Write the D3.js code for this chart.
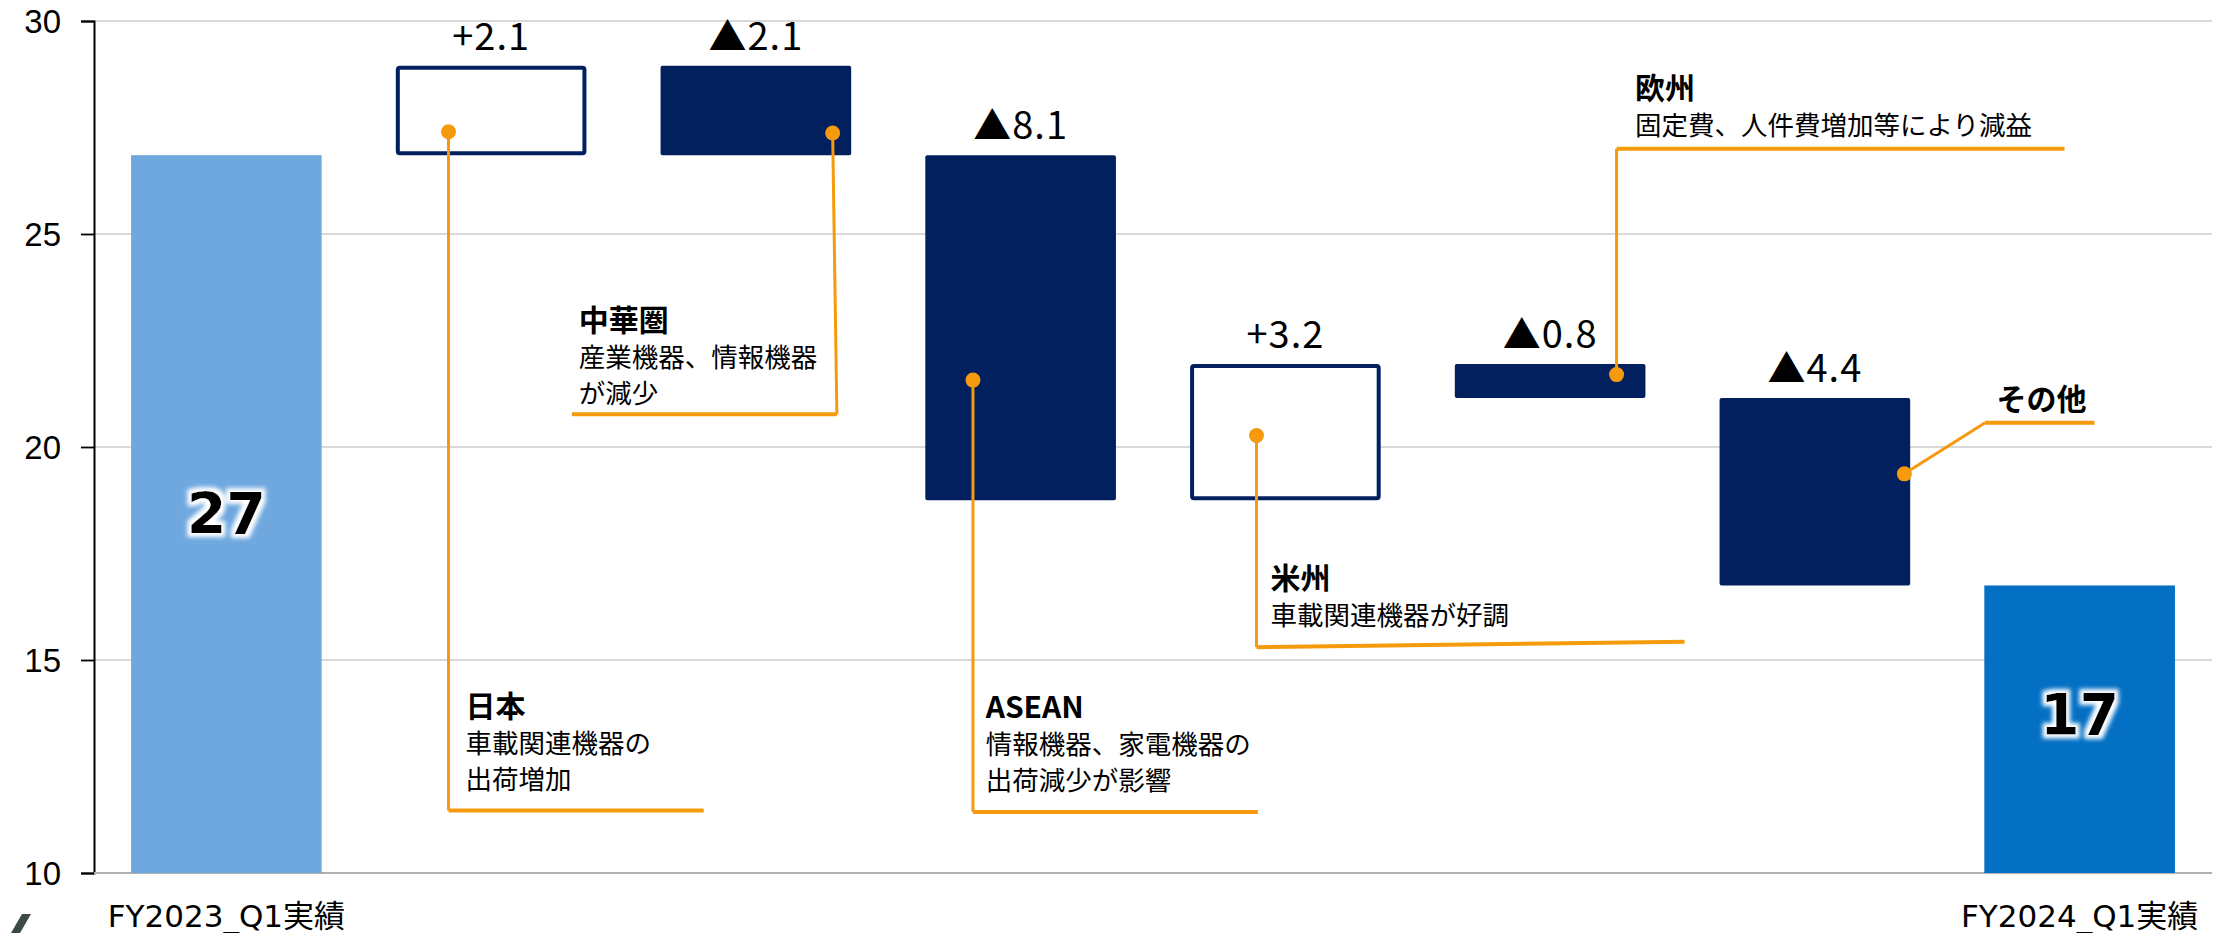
<!DOCTYPE html>
<html>
<head>
<meta charset="utf-8">
<script src="https://cdn.jsdelivr.net/npm/d3@7"></script>
<style>
  body { margin: 0; background: #fff; }
  svg { display: block; }
</style>
</head>
<body>
<script>
// 地域別の増減（ウォーターフォール）

const WIDTH  = 2223;
const HEIGHT = 933;

const categories  = ['FY2023_Q1実績', '日本', '中華圏', 'ASEAN', '米州', '欧州', 'その他', 'FY2024_Q1実績'];
const startValue  = 26.85;
const deltas      = [2.1, -2.1, -8.1, 3.2, -0.8, -4.4];
const valueLabels = ['27', '+2.1', '▲2.1', '▲8.1', '+3.2', '▲0.8', '▲4.4', '17'];
const yTicks      = [10, 15, 20, 25, 30];

// 注記（位置は x: カテゴリ単位, y: 値の単位）
const notes = [
  { head: '日本',   lines: ['車載関連機器の', '出荷増加'],       text: [1.403, 13.67], path: [[1.339, 27.4], [1.339, 11.47], [2.303, 11.47]] },
  { head: '中華圏', lines: ['産業機器、情報機器', 'が減少'],     text: [1.831, 22.73], path: [[2.790, 27.37], [2.806, 20.77], [1.805, 20.77]] },
  { head: 'ASEAN',  lines: ['情報機器、家電機器の', '出荷減少が影響'], text: [3.368, 13.63], path: [[3.320, 21.57], [3.320, 11.43], [4.396, 11.43]] },
  { head: '米州',   lines: ['車載関連機器が好調'],               text: [4.444, 16.67], path: [[4.391, 20.27], [4.391, 15.30], [6.008, 15.43]] },
  { head: '欧州',   lines: ['固定費、人件費増加等により減益'],   text: [5.821, 28.17], path: [[5.751, 21.70], [5.751, 27.00], [7.443, 27.00]] },
  { head: 'その他', lines: [],                                   text: [7.186, 20.87], path: [[6.838, 19.37], [7.143, 20.57], [7.556, 20.57]] }
];

const NAVY   = '#03205e';
const ORANGE = '#f59a0c';

// 積み上げの計算
let bars = [];
let running = startValue;
bars.push({ cat: categories[0], lo: 10, hi: startValue, kind: 'start', label: valueLabels[0] });
deltas.forEach((d, i) => {
  let from = running;
  running = running + d;
  bars.push({ cat: categories[i + 1], lo: Math.min(from, running), hi: Math.max(from, running),
              kind: d >= 0 ? 'up' : 'down', label: valueLabels[i + 1] });
});
bars.push({ cat: categories[7], lo: 10, hi: running, kind: 'end', label: valueLabels[7] });

const X0 = 94, X1 = 2212;
const x = d3.scaleBand().domain(categories).range([X0, X1]).paddingInner(0.28).paddingOuter(0.14);
const xLin = d3.scaleLinear().domain([0, categories.length]).range([X0, X1]);
const y = d3.scaleLinear().domain([10, 30]).range([873, 21]);

let svg = d3.select('body').append('svg')
  .attr('width', WIDTH)
  .attr('height', HEIGHT);

// 白い縁取り
let f = svg.append('defs').append('filter').attr('id', 'glow')
  .attr('x', '-30%').attr('y', '-30%').attr('width', '160%').attr('height', '160%');
f.append('feMorphology').attr('in', 'SourceAlpha').attr('operator', 'dilate').attr('radius', 4).attr('result', 'd');
f.append('feGaussianBlur').attr('in', 'd').attr('stdDeviation', 2.2).attr('result', 'b');
f.append('feFlood').attr('flood-color', '#ffffff').attr('result', 'w');
f.append('feComposite').attr('in', 'w').attr('in2', 'b').attr('operator', 'in').attr('result', 'wb');
let m = f.append('feMerge');
m.append('feMergeNode').attr('in', 'wb');
m.append('feMergeNode').attr('in', 'SourceGraphic');

// グリッド
svg.append('g')
  .selectAll('line')
  .data(yTicks.filter(t => t > 10))
  .join('line')
  .attr('x1', X0).attr('x2', X1)
  .attr('y1', d => y(d)).attr('y2', d => y(d))
  .attr('stroke', '#d9d9d9').attr('stroke-width', 1.8);

// Y軸
let yAxis = svg.append('g')
  .attr('transform', `translate(${X0},0)`)
  .call(d3.axisLeft(y).tickValues(yTicks).tickSize(13).tickPadding(20));
yAxis.select('.domain').attr('stroke', '#000').attr('stroke-width', 2);
yAxis.selectAll('.tick line').attr('stroke', '#000').attr('stroke-width', 1.8);
yAxis.selectAll('.tick text')
  .attr('font-family', '"Liberation Sans", sans-serif')
  .attr('font-size', 33)
  .attr('dy', '0.36em')
  .attr('fill', '#000');

// X軸の線
svg.append('line')
  .attr('x1', X0).attr('x2', X1)
  .attr('y1', y(10)).attr('y2', y(10))
  .attr('stroke', '#b0b0b0').attr('stroke-width', 2);

// バー
svg.append('g')
  .selectAll('rect')
  .data(bars)
  .join('rect')
  .attr('x', d => d.kind === 'up' ? x(d.cat) + 2 : x(d.cat))
  .attr('y', d => d.kind === 'up' ? y(d.hi) + 2 : y(d.hi))
  .attr('width', d => d.kind === 'up' ? x.bandwidth() - 4 : x.bandwidth())
  .attr('height', d => d.kind === 'up' ? y(d.lo) - y(d.hi) - 4 : y(d.lo) - y(d.hi))
  .attr('rx', d => d.kind === 'start' || d.kind === 'end' ? 0 : 2)
  .attr('fill', d => d.kind === 'start' ? '#6fa8df' : d.kind === 'end' ? '#0470c4' : d.kind === 'up' ? '#fff' : NAVY)
  .attr('stroke', d => d.kind === 'up' ? NAVY : 'none')
  .attr('stroke-width', 4);

// 増減ラベル
svg.append('g')
  .selectAll('text')
  .data(bars.filter(d => d.kind === 'up' || d.kind === 'down'))
  .join('text')
  .attr('x', d => x(d.cat) + x.bandwidth() / 2)
  .attr('y', d => y(d.hi) - 16)
  .attr('text-anchor', 'middle')
  .attr('font-family', '"Noto Sans CJK JP", sans-serif')
  .attr('font-size', 38)
  .attr('letter-spacing', 1)
  .attr('fill', '#000')
  .text(d => d.label);

// 合計ラベル
svg.append('g')
  .selectAll('text')
  .data(bars.filter(d => d.kind === 'start' || d.kind === 'end'))
  .join('text')
  .attr('x', d => x(d.cat) + x.bandwidth() / 2)
  .attr('y', d => (y(d.lo) + y(d.hi)) / 2 + 20 - (d.kind === 'end' ? 14 : 0))
  .attr('text-anchor', 'middle')
  .attr('font-family', '"DejaVu Sans", Verdana, sans-serif')
  .attr('font-weight', 'bold')
  .attr('font-size', 57)
  .attr('fill', '#000')
  .attr('filter', 'url(#glow)')
  .text(d => d.label);

// カテゴリラベル（最初と最後のみ）
svg.append('g')
  .selectAll('text')
  .data([categories[0], categories[categories.length - 1]])
  .join('text')
  .attr('x', d => x(d) + x.bandwidth() / 2)
  .attr('y', 927)
  .attr('text-anchor', 'middle')
  .attr('font-family', '"DejaVu Sans", "Noto Sans CJK JP", sans-serif')
  .attr('font-size', 31)
  .attr('fill', '#000')
  .text(d => d);

// 左下のロゴの切れ端
svg.append('path')
  .attr('d', 'M22,914 L31,914 L20,933 L11,933 Z')
  .attr('fill', '#3b4a45');

// 注記
let line = d3.line().x(p => xLin(p[0])).y(p => y(p[1]));
let ng = svg.append('g');
notes.forEach(n => {
  ng.append('path')
    .attr('d', line(n.path.slice(0, 2)))
    .attr('fill', 'none')
    .attr('stroke', ORANGE)
    .attr('stroke-width', 3);
  ng.append('path')
    .attr('d', line(n.path.slice(1)))
    .attr('fill', 'none')
    .attr('stroke', ORANGE)
    .attr('stroke-width', 4);
  ng.append('circle')
    .attr('cx', xLin(n.path[0][0]))
    .attr('cy', y(n.path[0][1]))
    .attr('r', 7.5)
    .attr('fill', ORANGE);

  let tx = xLin(n.text[0]);
  let ty = y(n.text[1]);
  ng.append('text')
    .attr('x', tx).attr('y', ty)
    .attr('font-family', '"Noto Sans CJK JP", sans-serif')
    .attr('font-weight', 'bold')
    .attr('font-size', 30)
    .attr('fill', '#000')
    .text(n.head);
  n.lines.forEach((l, i) => {
    ng.append('text')
      .attr('x', tx).attr('y', ty + 36 * (i + 1))
      .attr('font-family', '"Noto Sans CJK JP", sans-serif')
      .attr('font-size', 26.5)
      .attr('fill', '#000')
      .text(l);
  });
});
</script>
</body>
</html>
